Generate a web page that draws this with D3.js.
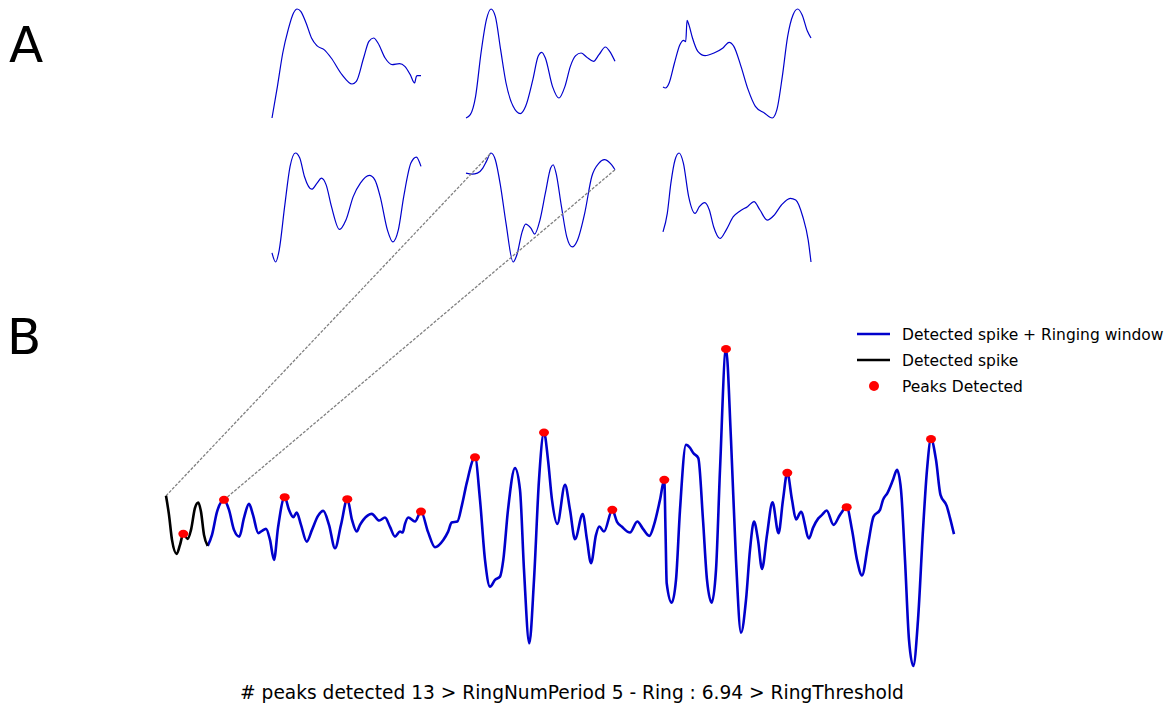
<!DOCTYPE html>
<html>
<head>
<meta charset="utf-8">
<script src="https://cdn.jsdelivr.net/npm/d3@7"></script>
<style>
  body { margin: 0; background: #fff; }
  svg { display: block; font-family: "DejaVu Sans", sans-serif; }
</style>
</head>
<body>
<svg id="chart" width="1175" height="706"></svg>
<script>
// main trace: [sample, amplitude]
var spike = [
  [0, 2.4], [3, 0.5], [6, -2.0], [10.7, -3.4], [14, -2.5], [17.3, -1.4], [21.7, -1.9],
  [25, -1.0], [29, 1.2], [32.3, 1.73], [35, 0.8], [38, -1.5], [41.7, -2.6]
]
var ringing = [
  [41.7, -2.6], [46, -1.5], [51, 0.8], [58, 2.0], [63, 1.0], [68, -1.0], [73.3, -1.67],
  [78, 0.2], [83, 1.6], [87, 0.5], [92.3, -1.33], [96, -1.1], [100, -0.9], [104, -2.0],
  [108, -4.0], [112, -0.8], [118.7, 2.27], [123, 1.0], [127.3, 0.27], [130.7, 0.73],
  [135, -0.5], [140.7, -2.17], [146, -1.0], [152, 0.4], [157.3, 0.9], [163, -0.5],
  [169, -2.83], [175, -0.5], [181.3, 2.07], [186, 0.0], [190.7, -1.17], [194, -0.5],
  [197.3, 0.0], [205.7, 0.6], [213.3, -0.07], [219, 0.23], [224, -0.7], [229, -1.67],
  [234, -1.17], [236.7, -1.27], [239, -0.4], [242.3, 0.23], [249, -0.17], [255, 0.83],
  [262, -1.2], [269, -2.73], [277.3, -2.0], [282, -1.2], [285.7, -0.27], [291.3, -0.17],
  [296, 1.5], [300.7, 3.67], [309, 6.25], [314, 2.0], [319, -4.0], [324, -6.67],
  [329, -6.0], [334, -5.67], [337.3, -4.0], [342, 1.0], [349, 5.17], [354, 3.0],
  [358, -5.0], [363.3, -12.33], [368, -6.0], [373, 4.0], [378, 8.73], [382, 6.0],
  [386, 2.0], [391.3, -0.4], [399, 3.5], [404, 1.0], [409, -1.93], [416.7, 0.57],
  [421, -2.0], [425, -4.33], [430, -1.5], [433.3, -0.67], [438, -1.17], [446.3, 1.0],
  [451, -0.2], [455.7, -0.67], [464, -1.27], [471.3, -0.17], [477, -0.9], [483.3, -1.6],
  [488, -0.5], [494, 2.0], [498.3, 4.0], [499.5, -1.0], [500.7, -6.33], [505.7, -8.27],
  [510, -6.0], [514, 1.0], [520, 7.5], [524, 7.2], [527.3, 6.67], [532.3, 6.17],
  [537, 0.0], [541, -6.0], [545.7, -8.27], [550, -5.0], [554, 5.0], [560, 17.07],
  [565, 8.0], [570, -4.0], [575, -11.27], [580, -8.0], [584, -3.0], [588, -0.17],
  [592, -2.0], [596, -4.9], [601, -1.5], [606.5, 1.75], [612.5, -1.33], [617, 2.0],
  [621.3, 4.7], [626, 2.0], [630, 0.05], [635, 0.8], [643, -1.85], [647, -0.8],
  [652.3, 0.15], [656, 0.5], [660.7, 0.93], [667.5, -0.5], [674, 0.5], [680.7, 1.27],
  [686, -1.0], [691, -4.0], [696, -5.55], [702, -2.5], [707.5, 0.33], [714, 1.0],
  [717, 2.0], [721.5, 2.7], [727, 4.0], [731, 5.0], [735, 3.0], [739, -4.0],
  [743, -12.0], [747.3, -14.6], [752, -10.0], [757, -1.0], [761, 5.0], [765, 8.07],
  [770, 6.0], [774.5, 2.5], [780.7, 1.4], [784, 0.2], [788, -1.43]
]
var peakSamples = [17.3, 58, 118.7, 181.3, 255, 309, 378, 446.3, 498.3, 560, 621.3, 680.7, 765]

// ringing periods (panels A), [sample, amplitude]
var period1 = [
  [0, -7.75], [5.4, -3.0], [10.7, 2.0], [16.1, 5.5], [21.4, 8.0], [25, 8.6], [28.6, 8.25],
  [33.9, 6.5], [39.3, 4.25], [44.6, 3.1], [51.8, 2.5], [58.9, 1.25], [69.6, -1.25],
  [79.6, -2.65], [83.9, -2.25], [91.1, 1.25], [96.4, 3.75], [101.1, 4.25], [105.4, 3.5],
  [112.5, 1.25], [119.6, 0.25], [126.8, 0.4], [132.1, 0.0], [137.5, -1.25], [141.8, -2.5],
  [143.6, -1.5], [144.6, -1.4], [148.2, -1.4]
]
var period2 = [
  [0, -7.75], [4.3, -7.25], [9.6, -4.5], [15, 2.0], [20.4, 7.0], [25, 8.6], [29.3, 7.5],
  [34.6, 2.5], [40, -2.5], [47.1, -6.0], [54.3, -7.1], [59.6, -6.0], [66.8, -2.0],
  [72.1, 1.5], [75.7, 2.1], [79.3, 1.25], [86.4, -3.0], [92.9, -4.75], [98.9, -3.0],
  [104.3, 0.0], [109.6, 1.6], [115, 2.0], [120.4, 1.4], [127.5, 0.75], [132.9, 1.75],
  [139.3, 2.9], [143.6, 2.25], [148.9, 0.75]
]
var period3 = [
  [0, -3.1], [2.5, -3.25], [6.1, -2.5], [11.4, 0.5], [16.8, 3.25], [20.4, 3.9], [22.6, 3.7],
  [23.9, 6.9], [25.7, 6.25], [29.3, 4.25], [34.6, 2.25], [41.8, 1.6], [50.7, 2.0],
  [59.6, 2.75], [65.7, 3.6], [70.4, 3.0], [77.5, 0.0], [84.6, -3.5], [91.8, -6.0],
  [100.7, -7.0], [108.6, -7.75], [113.2, -6.5], [118.6, -1.5], [123.9, 4.5], [129.3, 7.75],
  [133.9, 8.6], [138.2, 7.75], [143.6, 5.25], [147.1, 4.25]
]
var period4 = [
  [0, -6.9], [3.6, -8.25], [7.1, -6.5], [12.5, 0.0], [17.9, 6.0], [23.2, 8.0], [27.5, 7.25],
  [32.1, 4.5], [39.3, 2.6], [44.6, 3.5], [48.9, 4.25], [53.6, 3.25], [58.9, 0.0],
  [66.8, -3.4], [73.2, -2.0], [80.4, 1.5], [87.5, 3.5], [96.4, 4.65], [101.8, 4.0],
  [107.1, 1.5], [114.3, -3.5], [119.6, -5.25], [125, -3.5], [130.4, 1.5], [137.5, 6.5],
  [142.9, 7.4], [147.5, 6.0]
]
var period5 = [
  [0, 5.0], [6.1, 4.85], [11.4, 5.0], [16.8, 5.75], [20.4, 6.75], [25, 8.0], [29.3, 7.0],
  [34.6, 3.0], [40, -2.5], [47.1, -8.25], [50.7, -7.25], [56.1, -3.75], [59.6, -2.6],
  [65, -3.25], [68.6, -4.1], [73.9, -2.0], [79.3, 2.0], [84.6, 5.75], [87.1, 6.25],
  [90, 5.0], [95.4, 0.0], [100.7, -4.5], [106.1, -6.0], [111.4, -5.0], [118.6, -1.0],
  [125.7, 4.5], [132.9, 6.5], [138.2, 7.0], [145.4, 6.25], [148.9, 5.5]
]
var period6 = [
  [0, -3.75], [4.3, -1.0], [7.9, 3.5], [12.1, 7.0], [16.1, 8.0], [20.4, 6.5], [25.7, 1.5],
  [32.1, -1.0], [36.4, 0.0], [41.8, 0.6], [46.4, -0.5], [50.7, -3.0], [57.1, -4.75],
  [63.2, -3.5], [70.4, -1.5], [77.5, -0.6], [84.6, 0.0], [91.1, 0.75], [97.1, -0.5],
  [104.3, -2.0], [111.4, -1.25], [118.6, 0.25], [127.5, 1.25], [132.9, 1.0], [140, -1.5],
  [145.4, -5.0], [148.2, -8.25]
]
var periods = [period1, period2, period3, period4, period5, period6]

var legendLabels = ["Detected spike + Ringing window", "Detected spike", "Peaks Detected"]
var caption = "# peaks detected 13 > RingNumPeriod 5 - Ring : 6.94 > RingThreshold"

var blue = "#0000cc"
var svg = d3.select("#chart")

// panel letters
svg.append("text").attr("x", 9).attr("y", 62).attr("font-size", 50).text("A")
svg.append("text").attr("x", 7).attr("y", 354).attr("font-size", 50).text("B")

// small panels, 2 rows x 3 cols, each autoscaled
var colX = [[272, 421], [466, 615], [663, 811]]
var rowY = [[9, 118], [153, 262]]
var panelScales = []

periods.forEach(function(d, i) {
  var c = colX[i % 3], r = rowY[Math.floor(i / 3)]
  var px = d3.scaleLinear().domain(d3.extent(d, function(p) { return p[0] })).range(c)
  var py = d3.scaleLinear().domain(d3.extent(d, function(p) { return p[1] })).range([r[1], r[0]])
  panelScales.push([px, py])
  svg.append("path")
    .datum(d)
    .attr("fill", "none")
    .attr("stroke", blue)
    .attr("stroke-width", 1.2)
    .attr("d", d3.line()
      .x(function(p) { return px(p[0]) })
      .y(function(p) { return py(p[1]) })
      .curve(d3.curveMonotoneX))
})

// main trace
var all = spike.concat(ringing)
var x = d3.scaleLinear().domain(d3.extent(all, function(p) { return p[0] })).range([166, 954])
var y = d3.scaleLinear().domain(d3.extent(all, function(p) { return p[1] })).range([666, 349])

var line = d3.line()
  .x(function(p) { return x(p[0]) })
  .y(function(p) { return y(p[1]) })
  .curve(d3.curveMonotoneX)

// dashed connectors: trace start -> max of period 5, second peak -> end of period 5
var s5 = panelScales[4]
var top5 = period5.reduce(function(a, b) { return b[1] > a[1] ? b : a })
var last5 = period5[period5.length - 1]
var peak2 = ringing.find(function(p) { return p[0] === peakSamples[1] })
var links = [
  [[x(spike[0][0]), y(spike[0][1])], [s5[0](top5[0]), s5[1](top5[1])]],
  [[x(peak2[0]), y(peak2[1])], [s5[0](last5[0]), s5[1](last5[1])]]
]
svg.selectAll("line.link")
  .data(links)
  .enter().append("line")
  .attr("class", "link")
  .attr("x1", function(d) { return d[0][0] })
  .attr("y1", function(d) { return d[0][1] })
  .attr("x2", function(d) { return d[1][0] })
  .attr("y2", function(d) { return d[1][1] })
  .attr("stroke", "#808080")
  .attr("stroke-width", 1.3)
  .attr("stroke-dasharray", "3,1.5")

svg.append("path").datum(ringing)
  .attr("fill", "none").attr("stroke", blue).attr("stroke-width", 2.6)
  .attr("stroke-linejoin", "round")
  .attr("d", line)

svg.append("path").datum(spike)
  .attr("fill", "none").attr("stroke", "#000").attr("stroke-width", 2.6)
  .attr("stroke-linejoin", "round")
  .attr("d", line)

var peaks = peakSamples.map(function(t) {
  return all.find(function(p) { return p[0] === t })
})
svg.selectAll("ellipse.peak")
  .data(peaks)
  .enter().append("ellipse")
  .attr("class", "peak")
  .attr("cx", function(d) { return x(d[0]) })
  .attr("cy", function(d) { return y(d[1]) })
  .attr("rx", 5)
  .attr("ry", 4)
  .attr("fill", "#ff0000")

// legend
var lg = svg.append("g").attr("transform", "translate(857,334)")
lg.append("line").attr("x1", 0).attr("x2", 33).attr("y1", 0).attr("y2", 0)
  .attr("stroke", blue).attr("stroke-width", 2.6)
lg.append("line").attr("x1", 0).attr("x2", 33).attr("y1", 26).attr("y2", 26)
  .attr("stroke", "#000").attr("stroke-width", 2.6)
lg.append("circle").attr("cx", 17).attr("cy", 52).attr("r", 5).attr("fill", "#ff0000")
lg.selectAll("text")
  .data(legendLabels)
  .enter().append("text")
  .attr("x", 45)
  .attr("y", function(d, i) { return i * 26 + 6 })
  .attr("font-size", 15.5)
  .text(function(d) { return d })

svg.append("text")
  .attr("x", 572).attr("y", 699)
  .attr("text-anchor", "middle")
  .attr("font-size", 18.6)
  .text(caption)
</script>
</body>
</html>
